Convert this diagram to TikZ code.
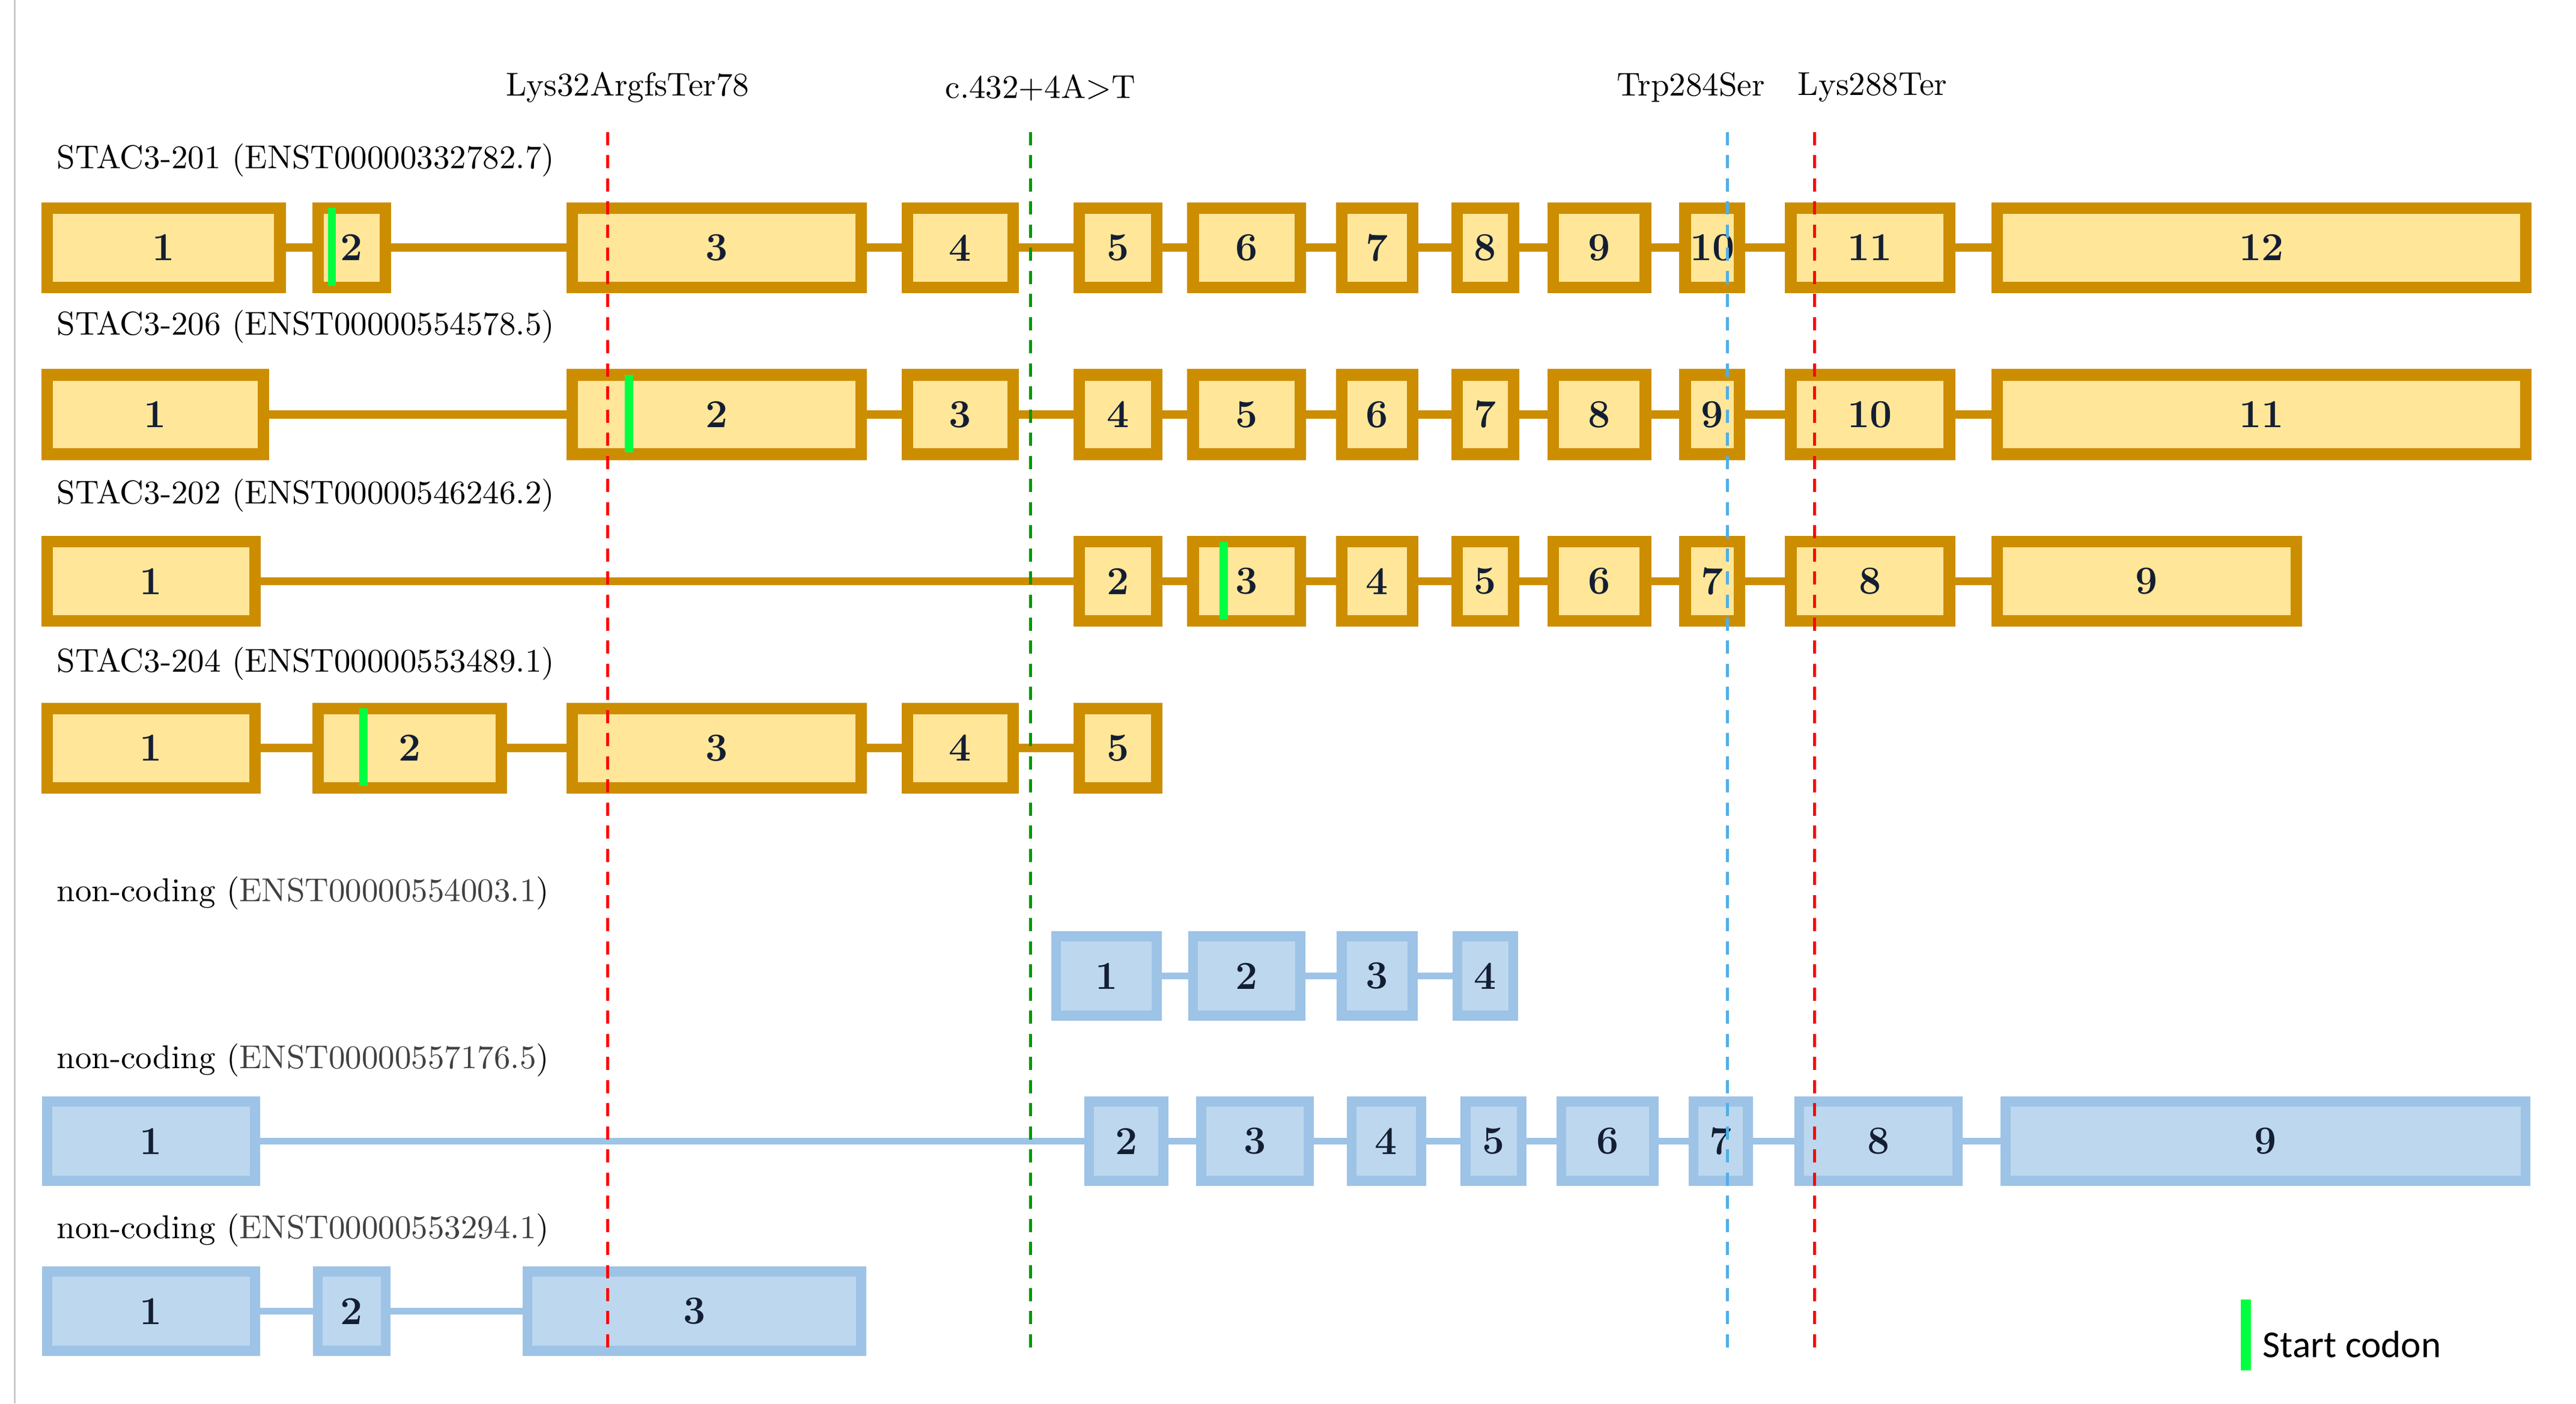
\documentclass[tikz,border=0pt]{standalone}
\usepackage{fontspec}
\newfontfamily\legendfont{Carlito}
\usetikzlibrary{backgrounds}
\definecolor{goldline}{RGB}{204,142,0}
\definecolor{goldfill}{RGB}{255,230,153}
\definecolor{blueline}{RGB}{157,195,230}
\definecolor{bluefill}{RGB}{189,215,238}
\definecolor{codon}{RGB}{0,255,64}
\definecolor{numtext}{RGB}{20,30,50}
\tikzset{
  exon/.style={rectangle,draw=goldline,fill=goldfill,line width=3.5pt,inner sep=0pt,
    minimum height=24pt,font=\large\bfseries,text=numtext},
  bexon/.style={exon,draw=blueline,fill=bluefill,line width=3pt},
  intron/.style={goldline,line width=2.5pt},
  bintron/.style={blueline,line width=2pt},
  start/.style={codon,line width=2.5pt},
  var/.style={dashed,line width=0.9pt,dash pattern=on 4pt off 3pt},
  tname/.style={anchor=west,inner sep=0pt,font=\normalsize},
  vname/.style={inner sep=0pt,font=\normalsize}
}
\newcommand{\exonrow}[4]{% style, row name, y, list a/b/n
  \foreach \a/\b/\n in {#4}
    \node[#1,minimum width={(\b-\a-7)*0.5pt}] (#2e\n) at ({(\a+\b)/2},#3) {\n};}
\begin{document}
\begin{tikzpicture}[x=0.5pt,y=-0.5pt]
  \useasboundingbox (0,0) rectangle (1560,850);
  \draw[gray!40,line width=0.5pt] (9,0) -- (9,850);

  % transcript names
  \node[tname] (t1) at (34,97) {STAC3-201 (ENST00000332782.7)};
  \node[tname] (t2) at (34,198) {STAC3-206 (ENST00000554578.5)};
  \node[tname] (t3) at (34,300) {STAC3-202 (ENST00000546246.2)};
  \node[tname] (t4) at (34,402) {STAC3-204 (ENST00000553489.1)};
  \node[tname] (t5) at (34,541) {non-coding (\textcolor{black!75}{ENST00000554003.1})};
  \node[tname] (t6) at (34,642) {non-coding (\textcolor{black!75}{ENST00000557176.5})};
  \node[tname] (t7) at (34,745) {non-coding (\textcolor{black!75}{ENST00000553294.1})};

  % exons
  \exonrow{exon}{a}{150}{25/173/1,189/237/2,343/525/3,546/617/4,650/704/5,719/791/6,809/859/7,879/920/8,937/1000/9,1017/1057/10,1081/1184/11,1206/1533/12}
  \exonrow{exon}{b}{251}{25/163/1,343/525/2,546/617/3,650/704/4,719/791/5,809/859/6,879/920/7,937/1000/8,1017/1057/9,1081/1184/10,1206/1533/11}
  \exonrow{exon}{c}{352}{25/158/1,650/704/2,719/791/3,809/859/4,879/920/5,937/1000/6,1017/1057/7,1081/1184/8,1206/1394/9}
  \exonrow{exon}{d}{453}{25/158/1,189/307/2,343/525/3,546/617/4,650/704/5}
  \exonrow{bexon}{e}{591}{636/704/1,719/791/2,809/859/3,879/920/4}
  \exonrow{bexon}{f}{691}{25/158/1,656/708/2,724/796/3,815/864/4,884/925/5,942/1005/6,1022/1062/7,1086/1189/8,1211/1533/9}
  \exonrow{bexon}{g}{794}{25/158/1,189/237/2,316/525/3}

  \begin{pgfonlayer}{background}
    \draw[intron] (ae1) -- (ae12);
    \draw[intron] (be1) -- (be11);
    \draw[intron] (ce1) -- (ce9);
    \draw[intron] (de1) -- (de5);
    \draw[bintron] (ee1) -- (ee4);
    \draw[bintron] (fe1) -- (fe9);
    \draw[bintron] (ge1) -- (ge3);
  \end{pgfonlayer}

  % start codons
  \draw[start] (201,126) -- (201,173);
  \draw[start] (381,227) -- (381,274);
  \draw[start] (741,328) -- (741,375);
  \draw[start] (220,429) -- (220,476);

  % variants
  \node[vname] (v1) at (380,53) {Lys32ArgfsTer78};
  \node[vname] (v2) at (630,53) {c.432+4A>T};
  \node[vname] (v3) at (1024,53) {Trp284Ser};
  \node[vname] (v4) at (1134,53) {Lys288Ter};
  \coordinate (v1b) at (368,820);
  \coordinate (v2b) at (624,820);
  \coordinate (v3b) at (1046,820);
  \coordinate (v4b) at (1099,820);
  \draw[var,red] (368,80) -- (v1b);
  \draw[var,green!60!black] (624,80) -- (v2b);
  \draw[var,cyan!80!blue!70] (1046,80) -- (v3b);
  \draw[var,red] (1099,80) -- (v4b);

  % legend
  \draw[start,line width=3pt] (1360,787) -- (1360,830);
  \node[anchor=west,inner sep=0pt,font=\legendfont\fontsize{11.5}{13}\selectfont] (leg) at (1370,814) {Start codon};
\end{tikzpicture}
\end{document}
